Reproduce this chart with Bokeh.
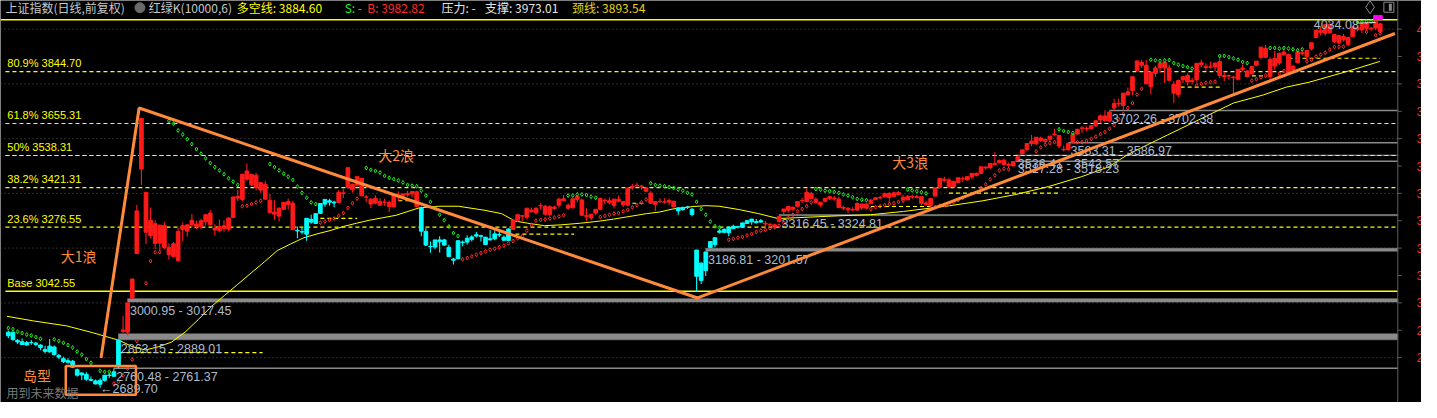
from bokeh.plotting import figure
from bokeh.models import ColumnDataSource, Range1d
from bokeh.core.properties import value
from bokeh.embed import file_html
from bokeh.resources import INLINE

# ---------------------------------------------------------------- data
first_bar = -29  # bar index of the first candle (0 = the wave-1 top bar)

opens = [
    2880, 2893, 2863, 2858, 2846, 2855, 2853, 2846, 2830, 2821,
    2839, 2808, 2796, 2783, 2787, 2756, 2737, 2739, 2720, 2715,
    2703, 2717, 2735, 2732, 2770, 2901, 2893, 3017, 3180, 3674,
    3404, 3246, 3289, 3218, 3283, 3176, 3216, 3154, 3282, 3262,
    3285, 3288, 3278, 3296, 3328, 3272, 3264, 3282, 3269, 3312,
    3389, 3378, 3482, 3431, 3466, 3412, 3433, 3375, 3332, 3317,
    3342, 3359, 3364, 3265, 3260, 3251, 3305, 3290, 3327, 3361,
    3373, 3365, 3367, 3400, 3494, 3413, 3430, 3455, 3387, 3379,
    3364, 3357, 3368, 3367, 3351, 3394, 3390, 3395, 3398, 3406,
    3347, 3261, 3205, 3204, 3223, 3230, 3203, 3156, 3161, 3222,
    3222, 3232, 3249, 3245, 3240, 3234, 3234, 3248, 3240, 3228,
    3268, 3302, 3317, 3313, 3339, 3329, 3354, 3353, 3322, 3345,
    3357, 3380, 3357, 3348, 3378, 3376, 3319, 3310, 3328, 3342,
    3375, 3373, 3356, 3379, 3370, 3357, 3422, 3428, 3427, 3420,
    3401, 3359, 3371, 3368, 3368, 3371, 3347, 3341, 3349, 3323,
    3193, 3082, 3118, 3202, 3213, 3258, 3258, 3256, 3271, 3278,
    3277, 3290, 3306, 3293, 3300, 3291, 3285, 3285, 3297, 3334,
    3338, 3349, 3353, 3374, 3370, 3399, 3379, 3358, 3371, 3381,
    3383, 3379, 3349, 3346, 3341, 3339, 3361, 3346, 3362, 3377,
    3383, 3387, 3400, 3389, 3396, 3386, 3376, 3389, 3385, 3388,
    3365, 3355, 3390, 3422, 3452, 3449, 3424, 3440, 3455, 3449,
    3460, 3466, 3473, 3496, 3493, 3505, 3512, 3521, 3506, 3500,
    3519, 3545, 3560, 3591, 3581, 3602, 3590, 3598, 3617, 3611,
    3561, 3560, 3587, 3617, 3638, 3637, 3637, 3647, 3668, 3683,
    3664, 3712, 3729, 3721, 3761, 3776, 3848, 3878, 3868, 3790,
    3838, 3859, 3878, 3858, 3798, 3761, 3815, 3831, 3808, 3815,
    3877, 3864, 3862, 3862, 3881, 3826, 3830, 3825, 3817, 3858,
    3847, 3836, 3868, 3897, 3930, 3827, 3893, 3876, 3907, 3907,
    3850, 3877, 3911, 3900, 3928, 3969, 3996, 3985, 4017, 3980,
    3949, 3973, 3943, 3972, 4005, 3997, 4021, 4004, 4004, 4019,
]
highs = [
    2899, 2895, 2868, 2870, 2861, 2864, 2858, 2849, 2843, 2868,
    2844, 2813, 2803, 2798, 2791, 2760, 2746, 2747, 2731, 2720,
    2725, 2737, 2744, 2760, 2863, 2952, 3001, 3088, 3358, 3674,
    3404, 3348, 3302, 3285, 3295, 3218, 3222, 3275, 3294, 3286,
    3325, 3300, 3307, 3323, 3339, 3287, 3305, 3302, 3312, 3387,
    3412, 3471, 3509, 3471, 3475, 3441, 3446, 3398, 3375, 3348,
    3368, 3381, 3373, 3279, 3276, 3309, 3322, 3327, 3363, 3379,
    3380, 3373, 3411, 3416, 3494, 3436, 3463, 3456, 3394, 3383,
    3393, 3382, 3381, 3374, 3393, 3408, 3399, 3410, 3408, 3410,
    3352, 3273, 3224, 3230, 3243, 3234, 3212, 3165, 3228, 3228,
    3247, 3247, 3259, 3249, 3241, 3266, 3264, 3268, 3246, 3272,
    3305, 3322, 3321, 3346, 3348, 3348, 3364, 3358, 3356, 3355,
    3384, 3394, 3363, 3380, 3391, 3381, 3346, 3325, 3342, 3385,
    3381, 3385, 3380, 3392, 3373, 3421, 3435, 3439, 3431, 3424,
    3408, 3372, 3382, 3382, 3381, 3373, 3349, 3352, 3355, 3347,
    3193, 3148, 3187, 3226, 3239, 3269, 3273, 3280, 3285, 3282,
    3294, 3303, 3307, 3306, 3306, 3299, 3292, 3289, 3316, 3343,
    3353, 3353, 3370, 3384, 3418, 3405, 3385, 3370, 3384, 3391,
    3391, 3388, 3355, 3348, 3350, 3367, 3362, 3364, 3378, 3387,
    3391, 3403, 3404, 3407, 3409, 3395, 3394, 3395, 3394, 3390,
    3374, 3383, 3422, 3456, 3461, 3457, 3444, 3458, 3462, 3462,
    3475, 3476, 3497, 3500, 3510, 3550, 3524, 3527, 3513, 3517,
    3536, 3560, 3584, 3613, 3606, 3608, 3598, 3609, 3636, 3611,
    3574, 3583, 3617, 3636, 3645, 3645, 3650, 3667, 3688, 3704,
    3702, 3746, 3746, 3767, 3787, 3826, 3884, 3888, 3887, 3843,
    3866, 3876, 3881, 3870, 3810, 3816, 3829, 3838, 3822, 3876,
    3888, 3874, 3881, 3877, 3899, 3844, 3833, 3830, 3854, 3871,
    3851, 3866, 3883, 3936, 3943, 3897, 3921, 3912, 3925, 3911,
    3870, 3917, 3925, 3925, 3950, 3999, 4010, 4016, 4025, 3983,
    3977, 3983, 3973, 4010, 4010, 4022, 4022, 4007, 4034, 4023,
]
lows = [
    2871, 2862, 2850, 2847, 2844, 2847, 2842, 2827, 2815, 2818,
    2808, 2795, 2780, 2778, 2764, 2730, 2717, 2716, 2715, 2702,
    2690, 2712, 2726, 2730, 2761, 2889, 2881, 3017, 3180, 3431,
    3215, 3235, 3197, 3190, 3195, 3158, 3169, 3152, 3226, 3242,
    3277, 3270, 3270, 3283, 3284, 3245, 3257, 3260, 3262, 3311,
    3372, 3370, 3446, 3427, 3411, 3402, 3378, 3330, 3303, 3297,
    3338, 3340, 3267, 3236, 3251, 3227, 3289, 3288, 3326, 3351,
    3355, 3349, 3362, 3383, 3416, 3403, 3425, 3390, 3368, 3347,
    3360, 3355, 3354, 3332, 3348, 3371, 3380, 3388, 3385, 3351,
    3243, 3208, 3183, 3196, 3184, 3209, 3168, 3140, 3161, 3207,
    3213, 3224, 3239, 3224, 3211, 3229, 3229, 3240, 3225, 3226,
    3267, 3295, 3299, 3305, 3329, 3324, 3340, 3318, 3318, 3340,
    3348, 3373, 3339, 3344, 3367, 3318, 3300, 3302, 3320, 3338,
    3360, 3360, 3345, 3368, 3350, 3354, 3413, 3423, 3413, 3404,
    3361, 3336, 3365, 3362, 3357, 3349, 3322, 3337, 3343, 3316,
    3041, 3069, 3098, 3202, 3203, 3253, 3254, 3243, 3270, 3272,
    3275, 3288, 3285, 3290, 3294, 3275, 3281, 3272, 3294, 3325,
    3330, 3335, 3348, 3364, 3368, 3380, 3362, 3350, 3368, 3375,
    3373, 3347, 3339, 3328, 3335, 3337, 3339, 3341, 3361, 3375,
    3378, 3386, 3368, 3387, 3392, 3371, 3376, 3380, 3381, 3356,
    3355, 3350, 3390, 3420, 3441, 3419, 3424, 3438, 3442, 3447,
    3452, 3463, 3472, 3486, 3490, 3503, 3510, 3501, 3492, 3500,
    3518, 3543, 3554, 3572, 3577, 3588, 3583, 3588, 3609, 3565,
    3553, 3555, 3587, 3612, 3621, 3627, 3632, 3642, 3658, 3660,
    3660, 3703, 3716, 3704, 3757, 3758, 3848, 3859, 3800, 3761,
    3826, 3841, 3803, 3812, 3730, 3752, 3802, 3794, 3798, 3805,
    3860, 3848, 3856, 3845, 3821, 3810, 3814, 3755, 3812, 3846,
    3822, 3836, 3864, 3890, 3894, 3815, 3852, 3869, 3902, 3838,
    3842, 3877, 3903, 3885, 3922, 3969, 3978, 3976, 3982, 3948,
    3944, 3955, 3937, 3972, 3991, 3986, 3993, 3993, 3996, 3988,
]
closes = [
    2893, 2866, 2857, 2848, 2855, 2855, 2848, 2837, 2823, 2842,
    2811, 2802, 2785, 2789, 2765, 2736, 2744, 2721, 2717, 2704,
    2717, 2736, 2736, 2748, 2863, 2896, 3000, 3087, 3336, 3489,
    3258, 3301, 3217, 3284, 3202, 3202, 3169, 3261, 3268, 3285,
    3302, 3280, 3300, 3322, 3286, 3266, 3279, 3272, 3310, 3387,
    3383, 3470, 3452, 3470, 3421, 3439, 3379, 3330, 3324, 3346,
    3367, 3370, 3267, 3263, 3259, 3309, 3295, 3326, 3363, 3378,
    3368, 3368, 3404, 3402, 3422, 3432, 3461, 3391, 3386, 3361,
    3382, 3370, 3368, 3352, 3393, 3394, 3398, 3400, 3407, 3352,
    3262, 3211, 3206, 3230, 3230, 3211, 3169, 3160, 3227, 3220,
    3236, 3241, 3244, 3243, 3213, 3230, 3252, 3250, 3229, 3270,
    3303, 3322, 3318, 3346, 3333, 3346, 3355, 3324, 3351, 3350,
    3379, 3373, 3346, 3380, 3388, 3320, 3316, 3324, 3342, 3381,
    3372, 3366, 3379, 3371, 3358, 3419, 3426, 3430, 3426, 3408,
    3364, 3370, 3370, 3369, 3374, 3351, 3336, 3348, 3350, 3342,
    3097, 3145, 3186, 3224, 3238, 3263, 3268, 3276, 3280, 3277,
    3292, 3300, 3296, 3297, 3295, 3288, 3287, 3279, 3316, 3343,
    3352, 3342, 3370, 3374, 3404, 3381, 3367, 3367, 3381, 3388,
    3380, 3348, 3346, 3340, 3339, 3363, 3347, 3361, 3376, 3384,
    3385, 3399, 3385, 3402, 3403, 3377, 3389, 3387, 3388, 3363,
    3359, 3381, 3420, 3455, 3448, 3424, 3444, 3457, 3454, 3461,
    3473, 3473, 3497, 3493, 3509, 3510, 3520, 3505, 3503, 3516,
    3534, 3559, 3582, 3582, 3605, 3593, 3597, 3609, 3615, 3573,
    3559, 3583, 3617, 3634, 3639, 3635, 3647, 3665, 3683, 3666,
    3697, 3728, 3727, 3766, 3771, 3826, 3884, 3868, 3800, 3843,
    3858, 3876, 3858, 3813, 3766, 3812, 3826, 3807, 3812, 3875,
    3871, 3860, 3861, 3876, 3831, 3831, 3829, 3822, 3853, 3853,
    3828, 3863, 3883, 3934, 3897, 3889, 3865, 3912, 3916, 3839,
    3864, 3917, 3914, 3922, 3950, 3996, 3988, 4016, 3987, 3955,
    3976, 3961, 3969, 4008, 3998, 4019, 4003, 4001, 4029, 3990,
]
# bar ranges drawn in the "green" (cyan) state of 红绿K; all others red
cyan_spans = [(-29, -5), (34, 42), (61, 80), (117, 135)]

# stop dots (green above, red below)
green_dot_bar = [-29, -28, -27, -26, -25, -24, -23, -22,
                 -19, -18, -17, -16, -15, -14, -13, -12, -11, -9, -8, -7,
                 6, 7, 8, 9, 10, 11, 12, 13, 14, 15, 16, 17, 18, 19, 20, 21,
                 28, 29, 30, 31, 32, 33, 34, 35, 36, 37, 38,
                 49, 50, 51, 52, 53, 54, 55, 56, 57, 58, 59, 60, 61, 62, 63, 64, 65, 66, 67, 68, 69,
                 93, 94, 95, 96, 97, 98, 99,
                 111, 112, 113, 114, 115, 116, 117, 118, 119, 120, 121, 122, 123, 124, 125, 126,
                 147, 148, 149, 150, 151, 152, 153, 154, 155, 156, 157, 158,
                 167, 168, 169, 170, 171,
                 200, 201, 202, 203,
                 220, 221, 222, 223, 224, 225, 226, 227, 228, 229,
                 235, 236, 237, 238, 239, 240, 241,
                 246, 247, 248, 249, 250, 251, 252, 253,
                 265, 266, 267, 268]
green_dot_val = [2908, 2904, 2895, 2890, 2884, 2881, 2875, 2869,
                 2867, 2861, 2854, 2846, 2837, 2822, 2811, 2795, 2781, 2752, 2748, 2748,
                 3665, 3655, 3630, 3615, 3598, 3580, 3562, 3545, 3528, 3511, 3496, 3484, 3470, 3455, 3443, 3431,
                 3507, 3496, 3484, 3472, 3461, 3449, 3425, 3402, 3384, 3367, 3361,
                 3493, 3486, 3482, 3476, 3464, 3457, 3452, 3447, 3440, 3431, 3428, 3426, 3410, 3392, 3369, 3346, 3322, 3302, 3279, 3255, 3244,
                 3392, 3392, 3396, 3396, 3394, 3388, 3384,
                 3437, 3431, 3428, 3426, 3423, 3420, 3414, 3410, 3402, 3396, 3369, 3343, 3322, 3297, 3280, 3275,
                 3416, 3414, 3410, 3408, 3405, 3402, 3396, 3392, 3386, 3380, 3377, 3375,
                 3414, 3411, 3408, 3404, 3400,
                 3634, 3628, 3624, 3621,
                 3888, 3886, 3884, 3886, 3887, 3876, 3870, 3865, 3861, 3856,
                 3902, 3902, 3898, 3893, 3888, 3880, 3876,
                 3931, 3931, 3929, 3931, 3929, 3926, 3923, 3926,
                 4026, 4026, 4027, 4028]
red_dot_bar = [-6, -5, -4, -3, -2, -1, 1, 2, 3, 4,
               22, 23, 24, 25, 26,
               39, 40, 41, 42, 43, 44, 45, 46, 47,
               70, 71, 72, 73, 74, 75, 76, 77, 78, 79, 80, 81, 82, 83, 84, 85, 86, 87, 88, 89, 90, 91, 92,
               100, 101, 102, 103, 104, 105, 106, 107, 108, 109, 110,
               128, 129, 130, 131, 132, 133, 134, 135, 136, 137, 138, 139, 140, 141, 142, 143, 144, 145, 146,
               159, 160, 161, 162, 163, 164, 165, 166,
               173, 174, 175, 176, 177, 178, 179,
               183, 184, 185, 186, 187, 188, 189,
               195, 196, 197, 198, 199,
               204, 205, 206, 207, 208, 209, 210, 211, 212, 213, 214, 215, 216, 217, 218,
               230, 231, 232, 233, 234,
               242, 243, 244, 245, 248, 249,
               254, 255, 256, 257, 258, 259, 260, 261, 262,
               267, 269, 270]
red_dot_val = [2705, 2712, 2735, 2760, 2793, 2861, 3072, 3153, 3185, 3185,
               3353, 3355, 3361, 3367, 3373,
               3293, 3297, 3303, 3308, 3318, 3328, 3347, 3364, 3381,
               3159, 3164, 3170, 3176, 3182, 3188, 3194, 3198, 3203, 3209, 3217, 3226, 3236, 3244, 3264, 3285, 3300, 3303, 3305, 3308, 3312, 3316, 3320,
               3314, 3318, 3322, 3326, 3328, 3334, 3340, 3349, 3357, 3367, 3378,
               3231, 3234, 3238, 3241, 3246, 3252, 3259, 3264, 3267, 3273, 3276, 3282, 3292, 3310, 3322, 3334, 3343, 3353, 3367,
               3343, 3349, 3353, 3357, 3361, 3364, 3369, 3373,
               3350, 3355, 3358, 3361, 3367, 3376, 3384,
               3419, 3433, 3451, 3466, 3484, 3490, 3488,
               3554, 3568, 3578, 3584, 3587,
               3587, 3587, 3592, 3599, 3607, 3616, 3624, 3636, 3650, 3671, 3690, 3712, 3730, 3761, 3782,
               3795, 3800, 3804, 3806, 3808,
               3812, 3817, 3824, 3830, 3837, 3847,
               3882, 3888, 3900, 3907, 3914, 3925, 3935, 3935, 3936,
               3990, 3978, 3984]

# slow average line (read at sparse points)
ma_bar = [-29.3, -23.5, -16.3, -10.6, -4.8, -2.0, 0.9, 3.8, 6.6, 9.5, 12.4, 15.2, 18.1,
          21.0, 23.9, 26.8, 29.6, 32.5, 35.4, 38.3, 41.1, 44.0, 46.9, 49.7, 52.6, 55.5,
          60.5, 64.8, 69.1, 74.9, 78.5, 81.4, 84.2, 87.8, 91.4, 95.7, 100.0, 102.9, 105.8,
          110.1, 113.0, 115.8, 120.2, 123.0, 125.9, 130.2, 134.5, 138.8, 151.8, 158.9,
          166.1, 176.2, 183.4, 190.6, 197.7, 204.9, 210.7, 215.0, 219.3, 223.6, 227.9,
          232.2, 238.0, 244.4, 249.5, 254.5, 263.1, 269.9]
ma_val = [2951, 2934, 2916, 2891, 2863, 2840, 2828, 2840, 2857, 2893, 2939, 2986, 3027,
          3068, 3109, 3150, 3191, 3215, 3238, 3252, 3264, 3279, 3291, 3302, 3311, 3320,
          3347, 3353, 3353, 3338, 3326, 3299, 3291, 3282, 3285, 3291, 3299, 3306, 3314,
          3326, 3332, 3343, 3352, 3355, 3353, 3341, 3326, 3308, 3318, 3322,
          3334, 3355, 3373, 3396, 3425, 3461, 3496, 3542, 3578, 3613, 3648,
          3683, 3730, 3759, 3788, 3806, 3847, 3882]

# Fibonacci levels
fib_names = ["80.9%", "61.8%", "50%", "38.2%", "23.6%"]
fib_values = [3844.70, 3655.31, 3538.31, 3421.31, 3276.55]
base_value = 3042.55
top_value = 4034.08
low_value = 2689.70
low_bar = -9
high_bar = 269

# short dashed support/resistance segments
seg_start = [-4.8, 39, 56, 81.5, 107, 159, 176, 226.5, 240.5, 250]
seg_end = [26.4, 47, 59, 94.3, 110, 172, 200, 235, 244.5, 270]
seg_value = [2818, 3309, 3373, 3251, 3364, 3352, 3401, 3788, 3829, 3893.54]

# price gaps (low, high, first bar)
gap_low = [2760.48, 2863.15, 3000.95, 3186.81, 3316.45, 3536.41, 3517.28, 3583.31, 3702.26]
gap_high = [2761.37, 2889.01, 3017.45, 3201.57, 3324.81, 3542.57, 3518.23, 3586.97, 3702.38]
gap_bar = [-6, -5, -3, 123, 139, 190.5, 190.5, 202, 211]

# hand drawn waves
wave_bar = [-8.8, -0.5, 121.2, 273.2]
wave_val = [2799, 3712, 3018, 3984]
wave_names = ["大1浪", "大2浪", "大3浪"]

mark_bar = [269, 270]  # magenta marks

axis_prices = [2800, 2900, 3000, 3100, 3200, 3300, 3400, 3500, 3600, 3700, 3800, 3900, 4000]
grid_prices = [2800, 3000, 3200, 3400, 3600, 3800, 4000]

header_texts = ["上证指数(日线,前复权)", "红绿K(10000,6)", "多空线: 3884.60", "S: -",
                "B: 3982.82", "压力: -", "支撑: 3973.01", "颈线: 3893.54"]

# ---------------------------------------------------------------- layout
W, H = 1421, 402
REF_W, REF_H = 1437, 418
BAR0_X, BAR_STEP = 142.5, 4.64          # reference px of bar 0, px per bar
PRICE_TOP, PRICE_PER_PX = 4104.55, 3.513  # price at reference y=0, price per px


def rx(x):
    return (x - BAR0_X) / BAR_STEP


def ry(y):
    return PRICE_TOP - PRICE_PER_PX * y


AXIS_X = rx(1413)
LEFT_X = rx(5)
RED = "#FF1A1A"
CYAN = "#00FFFF"
YEL = "#FFFF00"
ORANGE = "#FF8A3A"
GAPTXT = "#AEBBCB"
LAT = value("Liberation Sans")
CJK = value("Noto Sans CJK SC")

p = figure(width=W, height=H, x_range=Range1d(rx(0), rx(REF_W)),
           y_range=Range1d(ry(REF_H), ry(0)), output_backend="svg",
           toolbar_location=None, min_border=0, x_axis_type=None, y_axis_type=None,
           background_fill_color="black", border_fill_color="black",
           outline_line_color=None)

# dotted grid
p.segment(x0=rx(0), x1=AXIS_X, y0=grid_prices, y1=grid_prices,
          line_color="#555555", line_dash="1 3", line_width=1)

# fib / base / top lines
p.segment(x0=LEFT_X, x1=AXIS_X, y0=fib_values, y1=fib_values,
          line_color=YEL, line_dash="4 3", line_width=1.2)
p.segment(x0=[rx(0), LEFT_X], x1=AXIS_X, y0=[top_value, base_value],
          y1=[top_value, base_value], line_color=YEL, line_width=1.4)
p.text(x=LEFT_X + 0.4, y=[v + 9 for v in fib_values] + [base_value + 9],
       text=[f"{n} {v:.2f}" for n, v in zip(fib_names, fib_values)] + [f"Base {base_value:.2f}"],
       text_color=YEL, text_font=LAT, text_font_size="11px", text_baseline="bottom")

# short dashed segments
p.segment(x0=seg_start, x1=seg_end, y0=seg_value, y1=seg_value,
          line_color=YEL, line_dash="4 3", line_width=1.2)

# gaps
thin = [i for i in range(len(gap_low)) if gap_high[i] - gap_low[i] < 4]
thick = [i for i in range(len(gap_low)) if gap_high[i] - gap_low[i] >= 4]
p.quad(left=[gap_bar[i] for i in thick], right=AXIS_X,
       bottom=[gap_low[i] + 2 for i in thick], top=[gap_high[i] - 2 for i in thick],
       fill_color="#8A8A8A", line_color="#8A8A8A", line_width=0.5)
p.segment(x0=[gap_bar[i] for i in thin], x1=AXIS_X,
          y0=[(gap_low[i] + gap_high[i]) / 2 for i in thin],
          y1=[(gap_low[i] + gap_high[i]) / 2 for i in thin],
          line_color="#8A8A8A", line_width=1.5)
# 50% line drawn again above the gap line that lies under it
p.segment(x0=LEFT_X, x1=AXIS_X, y0=fib_values[2], y1=fib_values[2],
          line_color=YEL, line_dash="4 3", line_width=1.2)

# slow average
p.line(ma_bar, ma_val, line_color=YEL, line_width=1)

# candles
bars = list(range(first_bar, first_bar + len(closes)))
colors = [CYAN if any(a <= b <= c for a, c in cyan_spans) else RED for b in bars]
src = ColumnDataSource(dict(
    x=bars, h=highs, l=lows,
    top=[max(o, c) for o, c in zip(opens, closes)],
    bottom=[min(o, c) for o, c in zip(opens, closes)],
    color=colors))
p.segment(x0="x", x1="x", y0="h", y1="l", line_color="color", line_width=1.1, source=src)
p.vbar(x="x", width=0.8, top="top", bottom="bottom", fill_color="color",
       line_color="color", line_width=1, source=src)

# stop dots
p.scatter(green_dot_bar, green_dot_val, marker="diamond", size=4,
          line_color="#22EE22", fill_color=None, line_width=1)
p.scatter(red_dot_bar, red_dot_val, marker="diamond", size=4,
          line_color="#FF2A2A", fill_color=None, line_width=1)

# gap labels
p.text(x=[b + 0.5 for b in gap_bar], y=[lo - 8.5 * PRICE_PER_PX for lo in gap_low],
       text=[f"{lo:.2f} - {hi:.2f}" for lo, hi in zip(gap_low, gap_high)],
       text_color=GAPTXT, text_font=LAT, text_font_size="12.5px", text_baseline="middle")
p.text(x=[low_bar], y=[low_value - 3], text=[f"←{low_value:.2f}"], text_color=GAPTXT,
       text_font=LAT, text_font_size="12.5px", text_baseline="middle")
p.text(x=[rx(1328)], y=[ry(25)], text=[f"{top_value:.2f}"], text_color=GAPTXT,
       text_font=LAT, text_font_size="12.5px", text_baseline="middle")
p.line([rx(1373), high_bar], [ry(23.5), top_value - 10], line_color="#DDDDDD", line_width=1)

# magenta marks
p.scatter(mark_bar, [top_value + 8] * len(mark_bar), marker="square", size=4,
          fill_color="#FF00FF", line_color="#FF00FF")

# waves
p.line(wave_bar, wave_val, line_color=ORANGE, line_width=3)
p.quad(left=rx(66), right=rx(137), bottom=ry(410), top=ry(380),
       fill_color=None, line_color=ORANGE, line_width=2.5)
p.text(x=[rx(79), rx(400), rx(920)], y=[ry(266), ry(161), ry(168)], text=wave_names,
       text_color=ORANGE, text_font=CJK, text_font_size="14px",
       text_align="center", text_baseline="middle")
p.text(x=[rx(37)], y=[ry(389)], text=["岛型"], text_color=ORANGE, text_font=CJK,
       text_font_size="14px", text_align="center", text_baseline="middle")
p.text(x=[rx(6)], y=[ry(408)], text=["用到未来数据"], text_color="#7A7A7A", text_font=CJK,
       text_font_size="12px", text_baseline="middle")

# right axis (its labels run off the right edge, as in the reference)
p.segment(x0=AXIS_X, x1=AXIS_X, y0=ry(REF_H), y1=ry(0), line_color="#5E5E5E", line_width=1)
p.segment(x0=AXIS_X, x1=rx(1417), y0=axis_prices, y1=axis_prices, line_color="#5E5E5E", line_width=1)
p.text(x=rx(1432), y=axis_prices, text=[str(v) for v in axis_prices], text_color="#E8302A",
       text_font=LAT, text_font_size="12.5px", text_baseline="middle")

# header
hx = [rx(5), rx(150), rx(239), rx(348), rx(371), rx(446), rx(490), rx(578)]
hc = ["#C8C8C8", "#C8C8C8", YEL, "#22EE22", "#FF2A2A", "#E6E6E6", "#E6E6E6", "#E8D21D"]
p.text(x=hx, y=ry(7.5), text=header_texts, text_color=hc, text_font=CJK,
       text_font_size="12px", text_baseline="middle")
p.scatter([rx(141)], [ry(7.5)], marker="circle", size=10, fill_color="#6A6A6A", line_color="#6A6A6A")
p.scatter([rx(1385)], [ry(7)], marker="diamond", size=13, fill_color=None, line_color="#8A8A8A")
p.scatter([rx(1404)], [ry(7)], marker="square", size=10, fill_color=None, line_color="#8A8A8A")
p.rect([rx(1405.5)], [ry(7)], width=3, height=7, width_units="screen", height_units="screen",
       fill_color="#8A8A8A", line_color=None)

open("out.html", "w").write(file_html(p, INLINE))
